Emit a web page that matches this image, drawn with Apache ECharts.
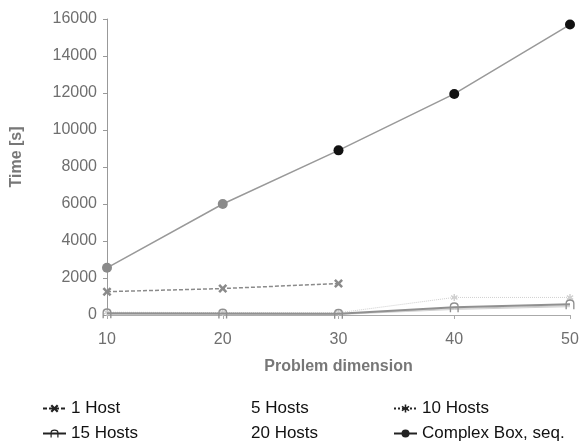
<!DOCTYPE html>
<html>
<head>
<meta charset="utf-8">
<script src="https://cdn.jsdelivr.net/npm/echarts@6/dist/echarts.min.js"></script>
<style>html,body{margin:0;padding:0;background:#fff}#c{width:582px;height:447px}</style>
</head>
<body>
<div id="c"></div>
<script>
var dims = [10, 20, 30, 40, 50];
var host1 = [1260, 1430, 1700, null, null];
var hosts5 = [40, 40, 50, 350, 500];
var hosts10 = [150, 130, 120, 950, 950];
var hosts15 = [90, 80, 70, 420, 580];
var hosts20 = [20, 20, 30, 300, 450];
var complexBox = [2550, 6000, 8900, 11950, 15700];
var yTicks = [0, 2000, 4000, 6000, 8000, 10000, 12000, 14000, 16000];

var FONT = 'Liberation Sans, Arial, sans-serif';
var xSym = 'path://M2,0L5,3L8,0L10,2L7,5L10,8L8,10L5,7L2,10L0,8L3,5L0,2Z';
var starSym = 'path://M4,0L6,0L6,3.5L9,1.5L10,3.2L7,5L10,6.8L9,8.5L6,6.5L6,10L4,10L4,6.5L1,8.5L0,6.8L3,5L0,3.2L1,1.5L4,3.5Z';
var archSym = 'path://M0,10L0,4Q0,0 5,0Q10,0 10,4L10,10L8.5,10L8.5,4Q8.5,1.5 5,1.5Q1.5,1.5 1.5,4L1.5,10Z';

function pairs(vals) { return dims.map(function (d, i) { return [d, vals[i]]; }); }

var chart = echarts.init(document.getElementById('c'), null, {renderer: 'canvas'});

var legendText = {fontFamily: FONT, fontSize: 17, color: '#111'};
function legend(name, visible, left, top) {
  var item = visible
    ? {name: name, itemStyle: {color: '#222', borderColor: '#222'}, lineStyle: {color: '#222'}}
    : {name: name, itemStyle: {opacity: 0}, lineStyle: {opacity: 0}};
  return {left: left, top: top, padding: 0, itemWidth: 23, itemHeight: 10, itemGap: 0,
          textStyle: legendText, data: [item], selectedMode: false};
}

chart.setOption({
  animation: false,
  backgroundColor: '#fff',
  grid: {left: 107, right: 12, top: 19, bottom: 132},
  xAxis: {
    type: 'value', min: 10, max: 50, interval: 10,
    name: 'Problem dimension', nameLocation: 'middle', nameGap: 44,
    nameTextStyle: {fontFamily: FONT, fontSize: 16, fontWeight: 'bold', color: '#777'},
    axisLine: {show: true, onZero: false, lineStyle: {color: '#aaa', width: 1}},
    axisTick: {show: true, length: 4, lineStyle: {color: '#aaa'}},
    axisLabel: {fontFamily: FONT, fontSize: 16, color: '#6f6f6f', margin: 17},
    splitLine: {show: false}
  },
  yAxis: {
    type: 'value', min: yTicks[0], max: yTicks[yTicks.length - 1], interval: 2000,
    name: 'Time [s]', nameLocation: 'middle', nameGap: 82, nameRotate: 90,
    nameTextStyle: {fontFamily: FONT, fontSize: 16, fontWeight: 'bold', color: '#777', padding: [0, 0, 0, 20]},
    axisLine: {show: true, lineStyle: {color: '#999', width: 1}},
    axisTick: {show: true, length: 4, lineStyle: {color: '#999'}},
    axisLabel: {fontFamily: FONT, fontSize: 16, color: '#6f6f6f', margin: 10,
                formatter: function (v) { return String(v); }},
    splitLine: {show: false}
  },
  legend: [
    legend('1 Host', true, 42, 400),
    legend('15 Hosts', true, 42, 425),
    legend('5 Hosts', false, 222, 400),
    legend('20 Hosts', false, 222, 425),
    legend('10 Hosts', true, 393, 400),
    legend('Complex Box, seq.', true, 393, 425)
  ],
  series: [
    {name: '1 Host', type: 'line', data: pairs(host1), symbol: xSym, symbolSize: 9,
     lineStyle: {color: '#8a8a8a', width: 1.5, type: [4, 2]},
     itemStyle: {color: '#8a8a8a'}, z: 3},
    {name: '5 Hosts', type: 'line', data: pairs(hosts5), symbol: 'none',
     lineStyle: {color: '#c8c8c8', width: 1}, itemStyle: {color: '#c8c8c8'}, z: 2},
    {name: '10 Hosts', type: 'line', data: pairs(hosts10), symbol: starSym, symbolSize: 7,
     lineStyle: {color: '#cfcfcf', width: 1, type: 'dotted'}, itemStyle: {color: '#cfcfcf'}, z: 2},
    {name: '15 Hosts', type: 'line', data: pairs(hosts15), symbol: archSym, symbolSize: [9, 10],
     lineStyle: {color: '#909090', width: 2}, itemStyle: {color: '#909090'}, z: 3},
    {name: '20 Hosts', type: 'line', data: pairs(hosts20), symbol: 'none',
     lineStyle: {color: '#d0d0d0', width: 1}, itemStyle: {color: '#d0d0d0'}, z: 2},
    {name: 'Complex Box, seq.', type: 'line',
     data: dims.map(function (d, i) {
       var dark = i >= 2;
       return {value: [d, complexBox[i]], itemStyle: {color: dark ? '#111' : '#8a8a8a'}};
     }),
     symbol: 'circle', symbolSize: 10,
     lineStyle: {color: '#999', width: 1.5}, itemStyle: {color: '#8a8a8a'}, z: 4}
  ]
});
</script>
</body>
</html>
